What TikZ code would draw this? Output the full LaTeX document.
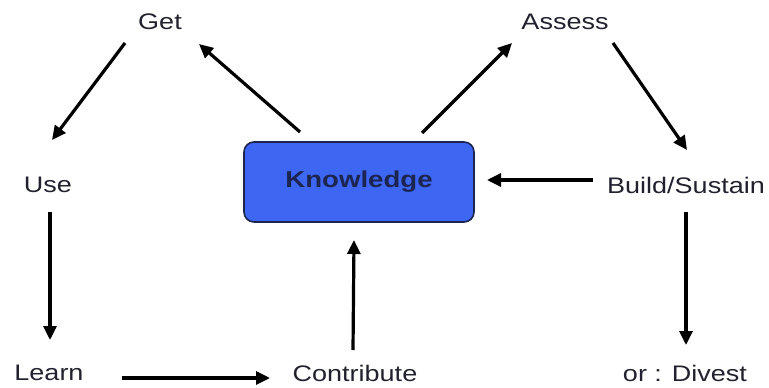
\documentclass[tikz,border=0pt]{standalone}
\usepackage{fontspec}
\setmainfont{Liberation Sans}
\usetikzlibrary{arrows.meta}
\definecolor{txt}{HTML}{22222E}
\definecolor{boxfill}{HTML}{3D66F2}
\definecolor{boxline}{HTML}{1C2450}
\newcommand{\wide}[1]{\scalebox{1.2}[1]{#1}}
\tikzset{
  lbl/.style={inner sep=0pt, text=txt, font=\fontsize{22.5}{26}\selectfont},
  kbox/.style={draw=boxline, line width=1.6pt, fill=boxfill, rounded corners=10pt,
    minimum width=230pt, minimum height=80pt, inner sep=0pt, text=boxline,
    font=\fontsize{23}{27}\selectfont\bfseries},
  arr/.style={line width=3.2pt, black, -{Triangle[length=14pt,width=13pt]}}
}
\begin{document}
\begin{tikzpicture}[x=1pt,y=-1pt]
\useasboundingbox (0,0) rectangle (769,388);
\node[kbox] (know) at (359,182) {\wide{Knowledge}};
\node[lbl] (get) at (160,22) {\wide{Get}};
\node[lbl] (assess) at (565,22) {\wide{Assess}};
\node[lbl] (use) at (48,185) {\wide{Use}};
\node[lbl] (build) at (686,185) {\wide{Build/Sustain}};
\node[lbl] (learn) at (49,373) {\wide{Learn}};
\node[lbl] (contrib) at (355,373) {\wide{Contribute}};
\node[lbl] (divest) at (685,373) {\wide{or : Divest}};

\draw[arr] ([xshift=-35pt,yshift=-21pt]get.center) -- ([xshift=4pt,yshift=45pt]use.center);
\draw[arr] ([xshift=-59pt,yshift=50pt]know.center) -- ([xshift=39pt,yshift=-22pt]get.center);
\draw[arr] ([xshift=63pt,yshift=49pt]know.center) -- ([xshift=-53pt,yshift=-21pt]assess.center);
\draw[arr] ([xshift=48pt,yshift=-21pt]assess.center) -- ([xshift=1pt,yshift=35pt]build.center);
\draw[arr] ([xshift=-93pt,yshift=5pt]build.center) -- ([xshift=128pt,yshift=2pt]know.center);
\draw[arr] ([xshift=2pt,yshift=-27pt]use.center) -- ([xshift=1pt,yshift=33pt]learn.center);
\draw[arr] ([xshift=73pt,yshift=-5pt]learn.center) -- ([xshift=-85pt,yshift=-5pt]contrib.center);
\draw[arr] ([xshift=-2pt,yshift=23pt]contrib.center) -- ([xshift=-5pt,yshift=-58pt]know.center);
\draw[arr] ([xshift=0pt,yshift=-27pt]build.center) -- ([xshift=1pt,yshift=28pt]divest.center);
\end{tikzpicture}
\end{document}
